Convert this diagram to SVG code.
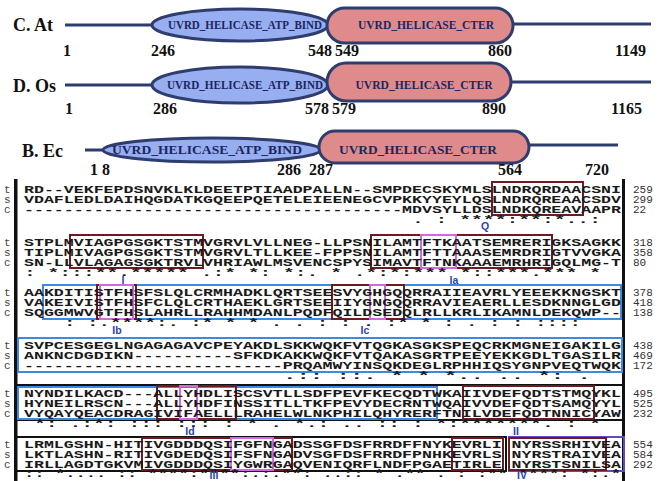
<svg xmlns="http://www.w3.org/2000/svg" width="662" height="481" viewBox="0 0 662 481">
<style>
.lbl{font-family:"Liberation Serif",serif;font-weight:bold;font-size:18px;fill:#111}
.dom{font-family:"Liberation Serif",serif;font-weight:bold;font-size:12px;fill:#1b2660}
.num{font-family:"Liberation Serif",serif;font-weight:bold;font-size:16px;fill:#111}
.bone{stroke:#2e3d6e;stroke-width:3;fill:none}
.atp{fill:#97aef0;stroke:#2e3d6e;stroke-width:3}
.cter{fill:#e08b8b;stroke:#2e3d6e;stroke-width:3}
.seq{font-family:"Liberation Mono",monospace;font-weight:bold;font-size:11px;fill:#1a1a1a}
.pos{font-family:"Liberation Mono",monospace;font-size:11px;fill:#333}
.sp{font-family:"Liberation Mono",monospace;font-size:11px;fill:#444}
.mot{font-family:"Liberation Sans",sans-serif;font-weight:bold;font-size:10.5px;fill:#2a44b0;text-anchor:middle}
.bx{fill:none;stroke-width:2}
.mar{stroke:#6b1c22}.mag{stroke:#d06ae0}.blu{stroke:#3d8be0}.blk{stroke:#111}.vio{stroke:#6548c4}
</style>

<g id="connectors">
<path class="bone" d="M65,25H153M513,24H651"/>
<path class="bone" d="M65,85H153M511,82H651"/>
<path class="bone" d="M85,150H103M529,145H618"/>
</g>

<g id="row-At">
<text class="lbl" x="13" y="31">C. At</text>
<ellipse id="At-atp" class="atp" cx="240" cy="25" rx="88" ry="16"/>
<rect id="At-cter" class="cter" x="327" y="8" width="186" height="35" rx="17.5"/>
<text class="dom" x="245" y="29" text-anchor="middle" textLength="154" lengthAdjust="spacingAndGlyphs">UVRD_HELICASE_ATP_BIND</text>
<text class="dom" x="426" y="29" text-anchor="middle" textLength="136" lengthAdjust="spacingAndGlyphs">UVRD_HELICASE_CTER</text>
<text class="num" x="63" y="56">1</text>
<text class="num" x="151" y="56">246</text>
<text class="num" x="308" y="56">548</text>
<text class="num" x="335" y="56">549</text>
<text class="num" x="488" y="56">860</text>
<text class="num" x="615" y="56">1149</text>
</g>

<g id="row-Os">
<text class="lbl" x="13" y="92">D. Os</text>
<ellipse id="Os-atp" class="atp" cx="240" cy="85" rx="88" ry="18"/>
<rect id="Os-cter" class="cter" x="327" y="63" width="184" height="38" rx="19"/>
<text class="dom" x="245" y="89" text-anchor="middle" textLength="156" lengthAdjust="spacingAndGlyphs">UVRD_HELICASE_ATP_BIND</text>
<text class="dom" x="424" y="89" text-anchor="middle" textLength="137" lengthAdjust="spacingAndGlyphs">UVRD_HELICASE_CTER</text>
<text class="num" x="65" y="114">1</text>
<text class="num" x="153" y="114">286</text>
<text class="num" x="305" y="114">578</text>
<text class="num" x="332" y="114">579</text>
<text class="num" x="482" y="114">890</text>
<text class="num" x="611" y="114">1165</text>
</g>

<g id="row-Ec">
<text class="lbl" x="22" y="157" font-size="17">B. Ec</text>
<ellipse id="Ec-atp" class="atp" cx="212" cy="150" rx="109" ry="12"/>
<rect id="Ec-cter" class="cter" x="319" y="131" width="210" height="32" rx="16"/>
<text class="dom" x="207" y="154" text-anchor="middle" textLength="190" lengthAdjust="spacingAndGlyphs">UVRD_HELICASE_ATP_BIND</text>
<text class="dom" x="418" y="154" text-anchor="middle" textLength="158" lengthAdjust="spacingAndGlyphs">UVRD_HELICASE_CTER</text>
<text class="num" x="90" y="175">1 8</text>
<text class="num" x="277" y="175">286</text>
<text class="num" x="309" y="175">287</text>
<text class="num" x="498" y="175">564</text>
<text class="num" x="585" y="175">720</text>
</g>

<g id="frame">
<rect x="14" y="179" width="3.5" height="302" fill="#111"/>
<rect x="622" y="179" width="3" height="302" fill="#111"/>
</g>

<g id="block1" xml:space="preserve">
<rect class="bx mar" x="492" y="182" width="91" height="33"/>
<text class="sp" x="4" y="193">t</text><text class="sp" x="4" y="203">s</text><text class="sp" x="4" y="213">c</text>
<text class="seq" x="24" y="193" textLength="597" lengthAdjust="spacingAndGlyphs">RD--VEKFEPDSNVKLKLDEETPTIAADPALLN--SMPDECSKYMLSLNDRQRDAACSNI</text>
<text class="seq" x="24" y="203" textLength="597" lengthAdjust="spacingAndGlyphs">VDAFLEDLDAIHQGDATKGQEEPQETELEIEENEGCVPKKYYEYLQSLNDRQREAACSDV</text>
<text class="seq" x="24" y="213" textLength="597" lengthAdjust="spacingAndGlyphs">--------------------------------------MDVSYLLDSLNDKQREAVAAPR</text>
<text class="seq" x="412" y="223" textLength="189" lengthAdjust="spacingAndGlyphs">.    : ****:**:*..:</text>
<text class="pos" x="633" y="193">259</text><text class="pos" x="633" y="203">299</text><text class="pos" x="633" y="213">22</text>
<text class="mot" x="485" y="230">Q</text>
</g>

<g id="block2" xml:space="preserve">
<rect class="bx mar" x="70" y="235" width="133" height="33"/>
<rect class="bx mar" x="371" y="235" width="181" height="33"/>
<rect class="bx mag" x="421" y="235" width="35" height="33"/>
<text class="sp" x="4" y="246">t</text><text class="sp" x="4" y="256">s</text><text class="sp" x="4" y="266">c</text>
<text class="seq" x="24" y="246" textLength="597" lengthAdjust="spacingAndGlyphs">STPLMVIAGPGSGKTSTMVGRVLVLLNEG-LLPSNILAMTFTKAATSEMRERIGKSAGKK</text>
<text class="seq" x="24" y="256" textLength="597" lengthAdjust="spacingAndGlyphs">TIPLMIVAGPGSGKTSTMVGRVLTLLKEE-FPPSNILAMTFTTAAASEMRDRIGTVVGKA</text>
<text class="seq" x="24" y="266" textLength="597" lengthAdjust="spacingAndGlyphs">SN-LLVLAGAGSGKTRVLVHRIAWLMSVENCSPYSIMAVTFTNKAAAEMRHRIGQLMG-T</text>
<text class="seq" x="24" y="276" textLength="577" lengthAdjust="spacingAndGlyphs">:  *:::**.***** .:* *:  *:.     * .*:*:***  *::***.***   *</text>
<text class="pos" x="633" y="246">318</text><text class="pos" x="633" y="256">358</text><text class="pos" x="633" y="266">80</text>
<text class="mot" x="123" y="284">I</text>
<text class="mot" x="454" y="284">Ia</text>
</g>

<g id="block3" xml:space="preserve">
<rect class="bx blu" x="43" y="285" width="578" height="34"/>
<rect class="bx mar" x="97" y="285" width="39" height="34"/>
<rect class="bx mag" x="100" y="285" width="33" height="34"/>
<rect class="bx mar" x="332" y="285" width="72" height="34"/>
<rect class="bx mag" x="370" y="285" width="15" height="34"/>
<text class="sp" x="4" y="296">t</text><text class="sp" x="4" y="306">s</text><text class="sp" x="4" y="316">c</text>
<text class="seq" x="24" y="296" textLength="597" lengthAdjust="spacingAndGlyphs">AAKDITISTFHSFSLQLCRMHADKLQRTSEESVYGHGQQRRAIIEAVRLYEEEKKNGSKT</text>
<text class="seq" x="24" y="306" textLength="597" lengthAdjust="spacingAndGlyphs">VAKEIVISTFHSFCLQLCRTHAEKLGRTSEEIIYGNGQQRRAVIEAERLLESDKNNGLGD</text>
<text class="seq" x="24" y="316" textLength="597" lengthAdjust="spacingAndGlyphs">SQGGMWVGTFHSLAHRLLRAHHMDANLPQDFQILDSEDQLRLLKRLIKAMNLDEKQWP--</text>
<text class="seq" x="64" y="326" textLength="517" lengthAdjust="spacingAndGlyphs">: :.****:. :* * *  .   . :  : .  :* * : .  :  : ::::</text>
<text class="pos" x="633" y="296">378</text><text class="pos" x="633" y="306">418</text><text class="pos" x="633" y="316">138</text>
<text class="mot" x="117" y="334">Ib</text>
<text class="mot" x="365" y="334">Ic</text>
</g>

<g id="block4" xml:space="preserve">
<rect class="bx blu" x="18" y="338" width="604" height="34"/>
<text class="sp" x="4" y="349">t</text><text class="sp" x="4" y="359">s</text><text class="sp" x="4" y="369">c</text>
<text class="seq" x="24" y="349" textLength="597" lengthAdjust="spacingAndGlyphs">SVPCESGEGLNGAGAGAVCPEYAKDLSKKWQKFVTQGKASGKSPEQCRKMGNEIGAKILG</text>
<text class="seq" x="24" y="359" textLength="597" lengthAdjust="spacingAndGlyphs">ANKNCDGDIKN----------SFKDKAKKWQKFVTQAKASGRTPEEYEKKGDLTGASILR</text>
<text class="seq" x="24" y="369" textLength="597" lengthAdjust="spacingAndGlyphs">--------------------------PRQAMWYINSQKDEGLRPHHIQSYGNPVEQTWQK</text>
<text class="seq" x="283" y="379" textLength="308" lengthAdjust="spacingAndGlyphs">.::   ::.  *  *  *.. .. *:    .</text>
<text class="pos" x="633" y="349">438</text><text class="pos" x="633" y="359">469</text><text class="pos" x="633" y="369">172</text>
</g>

<g id="block5" xml:space="preserve">
<rect class="bx blk" x="16" y="385" width="608" height="35"/>
<rect class="bx blu" x="18" y="387" width="419" height="32"/>
<rect class="bx mar" x="157" y="386" width="79" height="33"/>
<rect class="bx mag" x="180" y="386" width="17" height="33"/>
<rect class="bx mar" x="463" y="386" width="131" height="33"/>
<text class="sp" x="4" y="397">t</text><text class="sp" x="4" y="407">s</text><text class="sp" x="4" y="417">c</text>
<text class="seq" x="24" y="397" textLength="597" lengthAdjust="spacingAndGlyphs">NYNDILKACD---ALLYHDLISCSVTLLSDFPEVFKECQDTWKAIIVDEFQDTSTMQYKL</text>
<text class="seq" x="24" y="407" textLength="597" lengthAdjust="spacingAndGlyphs">HYNEILRSCN---ALLYHDFINSSITLLTKFPEVYDECRNTWQAIVVDEFQDTSAMQYYL</text>
<text class="seq" x="24" y="417" textLength="597" lengthAdjust="spacingAndGlyphs">VYQAYQEACDRAGIVIFAELLLRAHELWLNKPHILQHYRERFTNILVDEFQDTNNICYAW</text>
<text class="seq" x="34" y="427" textLength="567" lengthAdjust="spacingAndGlyphs">*:   .:*:    ::: :::  :  *  . *.: .. :: :  *:*******. : *</text>
<text class="pos" x="633" y="397">495</text><text class="pos" x="633" y="407">525</text><text class="pos" x="633" y="417">232</text>
<text class="mot" x="190" y="435">Id</text>
<text class="mot" x="516" y="435">II</text>
</g>

<g id="block6" xml:space="preserve">
<rect class="bx blk" x="16" y="437" width="490" height="34"/>
<rect class="bx mar" x="142" y="438" width="150" height="32"/>
<rect class="bx mag" x="231" y="438" width="42" height="32"/>
<rect class="bx mar" x="452" y="438" width="51" height="32"/>
<rect class="bx vio" x="509" y="437" width="115" height="34"/>
<rect class="bx mar" x="509" y="438" width="97" height="32"/>
<text class="sp" x="4" y="448">t</text><text class="sp" x="4" y="458">s</text><text class="sp" x="4" y="468">c</text>
<text class="seq" x="24" y="448" textLength="597" lengthAdjust="spacingAndGlyphs">LRMLGSHN-HITIVGDDDQSIFGFNGADSSGFDSFRRDFFNYKEVRLI NYRSSRHIVEA</text>
<text class="seq" x="24" y="458" textLength="597" lengthAdjust="spacingAndGlyphs">LKTLASHN-RITIVGDEDQSIFSFNGADVSGFDSFRRDFPNHKEVRLS NYRSTRAIVEA</text>
<text class="seq" x="24" y="468" textLength="597" lengthAdjust="spacingAndGlyphs">IRLLAGDTGKVMIVGDDDQSIYGWRGAQVENIQRFLNDFPGAETIRLE NYRSTSNILSA</text>
<text class="seq" x="24" y="477" textLength="597" lengthAdjust="spacingAndGlyphs">:: *.... :: ****:****:.:.**: ..:: * .** . : :**  ****:  *:.*</text>
<text class="pos" x="633" y="448">554</text><text class="pos" x="633" y="458">584</text><text class="pos" x="633" y="468">292</text>
<text class="mot" x="214" y="479" font-size="9">III</text>
<text class="mot" x="522" y="479" font-size="9">IV</text>
</g>
</svg>
